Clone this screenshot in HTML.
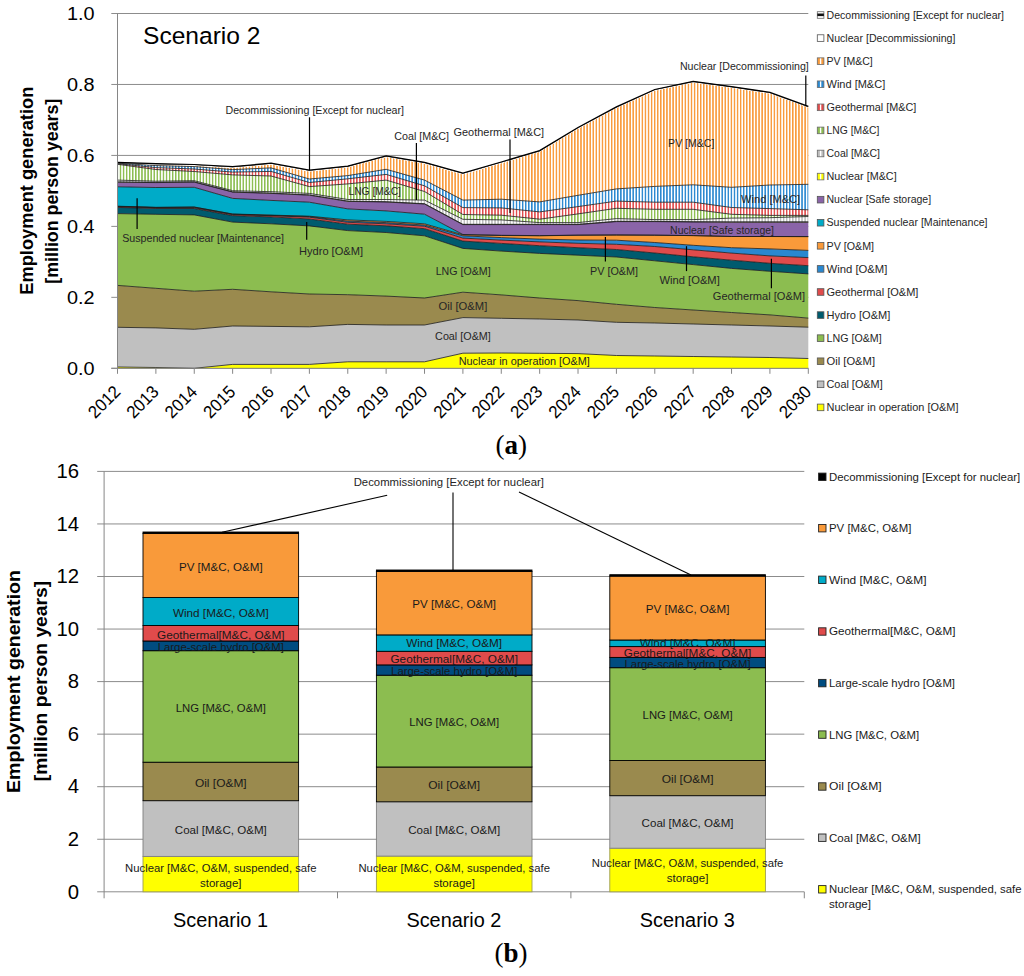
<!DOCTYPE html>
<html><head><meta charset="utf-8"><style>html,body{margin:0;padding:0;background:#fff;overflow:hidden;width:1024px;height:976px;}svg{display:block;}</style></head><body>
<svg width="1024" height="976" viewBox="0 0 1024 976" font-family="Liberation Sans, sans-serif">
<defs>
<pattern id="hNM" patternUnits="userSpaceOnUse" x="0" y="0" width="3.07" height="10"><rect width="3.07" height="10" fill="#FFFFFF"/><rect x="0" width="1.5" height="10" fill="#FFFF00"/></pattern>
<pattern id="hCM" patternUnits="userSpaceOnUse" x="0" y="0" width="3.07" height="10"><rect width="3.07" height="10" fill="#FFFFFF"/><rect x="0" width="1.5" height="10" fill="#BDBDBD"/></pattern>
<pattern id="hLM" patternUnits="userSpaceOnUse" x="0" y="0" width="3.07" height="10"><rect width="3.07" height="10" fill="#FFFFFF"/><rect x="0" width="1.5" height="10" fill="#8CBD50"/></pattern>
<pattern id="hGM" patternUnits="userSpaceOnUse" x="0" y="0" width="3.07" height="10"><rect width="3.07" height="10" fill="#FFFFFF"/><rect x="0" width="1.5" height="10" fill="#E04B4B"/></pattern>
<pattern id="hWM" patternUnits="userSpaceOnUse" x="0" y="0" width="3.07" height="10"><rect width="3.07" height="10" fill="#FFFFFF"/><rect x="0" width="1.5" height="10" fill="#2A88D0"/></pattern>
<pattern id="hPM" patternUnits="userSpaceOnUse" x="0" y="0" width="3.07" height="10"><rect width="3.07" height="10" fill="#FFFFFF"/><rect x="0" width="1.5" height="10" fill="#F99A3A"/></pattern>
</defs>
<rect width="1024" height="976" fill="#FFFFFF"/>
<line x1="111.3" y1="368.30" x2="808.3" y2="368.30" stroke="#8C8C8C" stroke-width="1"/>
<line x1="111.3" y1="297.34" x2="808.3" y2="297.34" stroke="#8C8C8C" stroke-width="1"/>
<line x1="111.3" y1="226.38" x2="808.3" y2="226.38" stroke="#8C8C8C" stroke-width="1"/>
<line x1="111.3" y1="155.42" x2="808.3" y2="155.42" stroke="#8C8C8C" stroke-width="1"/>
<line x1="111.3" y1="84.46" x2="808.3" y2="84.46" stroke="#8C8C8C" stroke-width="1"/>
<line x1="111.3" y1="13.50" x2="808.3" y2="13.50" stroke="#8C8C8C" stroke-width="1"/>
<polygon points="117.50,367.00 155.88,367.50 194.26,368.30 232.63,364.40 271.01,364.40 309.39,364.40 347.77,361.80 386.14,361.80 424.52,361.80 462.90,353.20 501.28,353.00 539.66,353.30 578.03,353.60 616.41,355.50 654.79,356.00 693.17,356.50 731.54,357.00 769.92,357.50 808.30,358.50 808.30,368.30 769.92,368.30 731.54,368.30 693.17,368.30 654.79,368.30 616.41,368.30 578.03,368.30 539.66,368.30 501.28,368.30 462.90,368.30 424.52,368.30 386.14,368.30 347.77,368.30 309.39,368.30 271.01,368.30 232.63,368.30 194.26,368.30 155.88,368.30 117.50,368.30" fill="#FFFF00" stroke="none"/>
<polygon points="117.50,327.30 155.88,327.90 194.26,329.30 232.63,326.00 271.01,326.40 309.39,326.80 347.77,324.40 386.14,325.00 424.52,325.00 462.90,317.60 501.28,318.30 539.66,319.00 578.03,320.00 616.41,322.30 654.79,323.00 693.17,324.00 731.54,325.00 769.92,326.00 808.30,327.20 808.30,358.50 769.92,357.50 731.54,357.00 693.17,356.50 654.79,356.00 616.41,355.50 578.03,353.60 539.66,353.30 501.28,353.00 462.90,353.20 424.52,361.80 386.14,361.80 347.77,361.80 309.39,364.40 271.01,364.40 232.63,364.40 194.26,368.30 155.88,367.50 117.50,367.00" fill="#C0C0C0" stroke="none"/>
<polygon points="117.50,285.40 155.88,288.30 194.26,291.20 232.63,289.30 271.01,291.80 309.39,294.00 347.77,294.70 386.14,296.10 424.52,298.00 462.90,292.20 501.28,294.90 539.66,298.00 578.03,300.60 616.41,304.30 654.79,307.50 693.17,310.00 731.54,312.50 769.92,314.90 808.30,318.10 808.30,327.20 769.92,326.00 731.54,325.00 693.17,324.00 654.79,323.00 616.41,322.30 578.03,320.00 539.66,319.00 501.28,318.30 462.90,317.60 424.52,325.00 386.14,325.00 347.77,324.40 309.39,326.80 271.01,326.40 232.63,326.00 194.26,329.30 155.88,327.90 117.50,327.30" fill="#9A8A4E" stroke="none"/>
<polygon points="117.50,213.60 155.88,214.30 194.26,214.90 232.63,222.10 271.01,223.80 309.39,225.90 347.77,230.60 386.14,232.50 424.52,235.80 462.90,248.40 501.28,251.10 539.66,253.40 578.03,255.20 616.41,257.00 654.79,260.80 693.17,264.60 731.54,268.40 769.92,271.30 808.30,273.90 808.30,318.10 769.92,314.90 731.54,312.50 693.17,310.00 654.79,307.50 616.41,304.30 578.03,300.60 539.66,298.00 501.28,294.90 462.90,292.20 424.52,298.00 386.14,296.10 347.77,294.70 309.39,294.00 271.01,291.80 232.63,289.30 194.26,291.20 155.88,288.30 117.50,285.40" fill="#8CBD50" stroke="none"/>
<polygon points="117.50,207.40 155.88,208.50 194.26,208.50 232.63,215.60 271.01,216.90 309.39,219.00 347.77,224.20 386.14,225.80 424.52,228.70 462.90,241.10 501.28,243.40 539.66,245.70 578.03,247.70 616.41,249.50 654.79,253.00 693.17,256.80 731.54,260.20 769.92,263.30 808.30,265.70 808.30,273.90 769.92,271.30 731.54,268.40 693.17,264.60 654.79,260.80 616.41,257.00 578.03,255.20 539.66,253.40 501.28,251.10 462.90,248.40 424.52,235.80 386.14,232.50 347.77,230.60 309.39,225.90 271.01,223.80 232.63,222.10 194.26,214.90 155.88,214.30 117.50,213.60" fill="#005B6E" stroke="none"/>
<polygon points="117.50,206.60 155.88,207.70 194.26,207.70 232.63,214.60 271.01,215.70 309.39,217.20 347.77,222.30 386.14,223.80 424.52,226.20 462.90,238.10 501.28,240.10 539.66,241.90 578.03,243.30 616.41,244.30 654.79,246.50 693.17,249.80 731.54,253.10 769.92,255.90 808.30,257.60 808.30,265.70 769.92,263.30 731.54,260.20 693.17,256.80 654.79,253.00 616.41,249.50 578.03,247.70 539.66,245.70 501.28,243.40 462.90,241.10 424.52,228.70 386.14,225.80 347.77,224.20 309.39,219.00 271.01,216.90 232.63,215.60 194.26,208.50 155.88,208.50 117.50,207.40" fill="#E04B4B" stroke="none"/>
<polygon points="117.50,206.40 155.88,207.50 194.26,207.20 232.63,214.20 271.01,215.40 309.39,216.60 347.77,221.10 386.14,222.60 424.52,225.00 462.90,235.80 501.28,237.60 539.66,239.10 578.03,240.00 616.41,240.20 654.79,242.50 693.17,245.30 731.54,247.70 769.92,248.90 808.30,250.40 808.30,257.60 769.92,255.90 731.54,253.10 693.17,249.80 654.79,246.50 616.41,244.30 578.03,243.30 539.66,241.90 501.28,240.10 462.90,238.10 424.52,226.20 386.14,223.80 347.77,222.30 309.39,217.20 271.01,215.70 232.63,214.60 194.26,207.70 155.88,207.70 117.50,206.60" fill="#2A88D0" stroke="none"/>
<polygon points="117.50,206.20 155.88,207.30 194.26,207.00 232.63,214.00 271.01,215.10 309.39,216.20 347.77,219.90 386.14,221.40 424.52,223.80 462.90,234.80 501.28,235.50 539.66,235.80 578.03,235.20 616.41,235.00 654.79,235.20 693.17,235.60 731.54,236.50 769.92,236.50 808.30,236.60 808.30,250.40 769.92,248.90 731.54,247.70 693.17,245.30 654.79,242.50 616.41,240.20 578.03,240.00 539.66,239.10 501.28,237.60 462.90,235.80 424.52,225.00 386.14,222.60 347.77,221.10 309.39,216.60 271.01,215.40 232.63,214.20 194.26,207.20 155.88,207.50 117.50,206.40" fill="#F99A3A" stroke="none"/>
<polygon points="117.50,186.80 155.88,187.50 194.26,187.30 232.63,198.40 271.01,200.40 309.39,202.20 347.77,208.90 386.14,210.90 424.52,214.20 462.90,234.50 501.28,235.30 539.66,235.60 578.03,235.20 616.41,235.00 654.79,235.20 693.17,235.60 731.54,236.50 769.92,236.50 808.30,236.60 808.30,236.60 769.92,236.50 731.54,236.50 693.17,235.60 654.79,235.20 616.41,235.00 578.03,235.20 539.66,235.80 501.28,235.50 462.90,234.80 424.52,223.80 386.14,221.40 347.77,219.90 309.39,216.20 271.01,215.10 232.63,214.00 194.26,207.00 155.88,207.30 117.50,206.20" fill="#00ABC8" stroke="none"/>
<polygon points="117.50,182.20 155.88,182.60 194.26,182.10 232.63,192.10 271.01,193.40 309.39,195.20 347.77,201.40 386.14,202.00 424.52,204.00 462.90,224.60 501.28,224.60 539.66,224.60 578.03,224.60 616.41,221.60 654.79,221.60 693.17,222.00 731.54,222.20 769.92,222.20 808.30,222.20 808.30,236.60 769.92,236.50 731.54,236.50 693.17,235.60 654.79,235.20 616.41,235.00 578.03,235.20 539.66,235.60 501.28,235.30 462.90,234.50 424.52,214.20 386.14,210.90 347.77,208.90 309.39,202.20 271.01,200.40 232.63,198.40 194.26,187.30 155.88,187.50 117.50,186.80" fill="#8A64A8" stroke="none"/>
<polygon points="117.50,181.90 155.88,182.30 194.26,181.80 232.63,191.80 271.01,193.10 309.39,194.90 347.77,201.10 386.14,201.70 424.52,203.70 462.90,224.30 501.28,224.30 539.66,224.30 578.03,224.30 616.41,221.30 654.79,221.30 693.17,221.70 731.54,221.90 769.92,221.90 808.30,221.90 808.30,222.20 769.92,222.20 731.54,222.20 693.17,222.00 654.79,221.60 616.41,221.60 578.03,224.60 539.66,224.60 501.28,224.60 462.90,224.60 424.52,204.00 386.14,202.00 347.77,201.40 309.39,195.20 271.01,193.40 232.63,192.10 194.26,182.10 155.88,182.60 117.50,182.20" fill="url(#hNM)" stroke="none"/>
<polygon points="117.50,180.10 155.88,181.20 194.26,180.70 232.63,190.70 271.01,191.70 309.39,193.40 347.77,199.50 386.14,199.50 424.52,200.10 462.90,219.30 501.28,219.90 539.66,222.60 578.03,222.60 616.41,218.60 654.79,219.60 693.17,219.60 731.54,218.10 769.92,217.70 808.30,216.50 808.30,221.90 769.92,221.90 731.54,221.90 693.17,221.70 654.79,221.30 616.41,221.30 578.03,224.30 539.66,224.30 501.28,224.30 462.90,224.30 424.52,203.70 386.14,201.70 347.77,201.10 309.39,194.90 271.01,193.10 232.63,191.80 194.26,181.80 155.88,182.30 117.50,181.90" fill="url(#hCM)" stroke="none"/>
<polygon points="117.50,164.30 155.88,169.50 194.26,171.50 232.63,174.90 271.01,176.00 309.39,186.60 347.77,183.90 386.14,180.10 424.52,191.50 462.90,214.50 501.28,215.20 539.66,219.20 578.03,213.90 616.41,208.30 654.79,209.30 693.17,209.30 731.54,214.30 769.92,215.40 808.30,215.40 808.30,216.50 769.92,217.70 731.54,218.10 693.17,219.60 654.79,219.60 616.41,218.60 578.03,222.60 539.66,222.60 501.28,219.90 462.90,219.30 424.52,200.10 386.14,199.50 347.77,199.50 309.39,193.40 271.01,191.70 232.63,190.70 194.26,180.70 155.88,181.20 117.50,180.10" fill="url(#hLM)" stroke="none"/>
<polygon points="117.50,163.70 155.88,167.60 194.26,169.00 232.63,172.10 271.01,171.40 309.39,182.50 347.77,178.80 386.14,174.40 424.52,185.80 462.90,207.60 501.28,207.90 539.66,211.90 578.03,206.60 616.41,201.10 654.79,202.20 693.17,202.20 731.54,207.50 769.92,208.60 808.30,209.80 808.30,215.40 769.92,215.40 731.54,214.30 693.17,209.30 654.79,209.30 616.41,208.30 578.03,213.90 539.66,219.20 501.28,215.20 462.90,214.50 424.52,191.50 386.14,180.10 347.77,183.90 309.39,186.60 271.01,176.00 232.63,174.90 194.26,171.50 155.88,169.50 117.50,164.30" fill="url(#hGM)" stroke="none"/>
<polygon points="117.50,163.20 155.88,165.60 194.26,166.60 232.63,169.60 271.01,167.90 309.39,179.00 347.77,175.60 386.14,169.30 424.52,180.10 462.90,200.10 501.28,199.20 539.66,201.90 578.03,195.30 616.41,188.90 654.79,186.40 693.17,184.80 731.54,187.30 769.92,185.00 808.30,184.30 808.30,209.80 769.92,208.60 731.54,207.50 693.17,202.20 654.79,202.20 616.41,201.10 578.03,206.60 539.66,211.90 501.28,207.90 462.90,207.60 424.52,185.80 386.14,174.40 347.77,178.80 309.39,182.50 271.01,171.40 232.63,172.10 194.26,169.00 155.88,167.60 117.50,163.70" fill="url(#hWM)" stroke="none"/>
<polygon points="117.50,163.50 155.88,164.90 194.26,165.70 232.63,167.90 271.01,164.40 309.39,171.40 347.77,167.30 386.14,157.10 424.52,163.50 462.90,174.40 501.28,163.20 539.66,151.80 578.03,128.70 616.41,108.10 654.79,90.70 693.17,82.50 731.54,87.80 769.92,93.60 808.30,107.60 808.30,184.30 769.92,185.00 731.54,187.30 693.17,184.80 654.79,186.40 616.41,188.90 578.03,195.30 539.66,201.90 501.28,199.20 462.90,200.10 424.52,180.10 386.14,169.30 347.77,175.60 309.39,179.00 271.01,167.90 232.63,169.60 194.26,166.60 155.88,165.60 117.50,163.20" fill="url(#hPM)" stroke="none"/>
<polygon points="117.50,162.90 155.88,164.30 194.26,165.10 232.63,167.30 271.01,163.80 309.39,170.80 347.77,166.70 386.14,156.50 424.52,162.90 462.90,173.80 501.28,162.60 539.66,151.20 578.03,128.10 616.41,107.50 654.79,90.10 693.17,81.90 731.54,87.20 769.92,93.00 808.30,107.00 808.30,107.60 769.92,93.60 731.54,87.80 693.17,82.50 654.79,90.70 616.41,108.10 578.03,128.70 539.66,151.80 501.28,163.20 462.90,174.40 424.52,163.50 386.14,157.10 347.77,167.30 309.39,171.40 271.01,164.40 232.63,167.90 194.26,165.70 155.88,164.90 117.50,163.50" fill="#FFFFFF" stroke="none"/>
<polygon points="117.50,162.30 155.88,163.70 194.26,164.50 232.63,166.70 271.01,163.20 309.39,170.20 347.77,166.10 386.14,155.90 424.52,162.30 462.90,173.20 501.28,162.00 539.66,150.60 578.03,127.50 616.41,106.90 654.79,89.50 693.17,81.30 731.54,86.60 769.92,92.40 808.30,106.40 808.30,107.00 769.92,93.00 731.54,87.20 693.17,81.90 654.79,90.10 616.41,107.50 578.03,128.10 539.66,151.20 501.28,162.60 462.90,173.80 424.52,162.90 386.14,156.50 347.77,166.70 309.39,170.80 271.01,163.80 232.63,167.30 194.26,165.10 155.88,164.30 117.50,162.90" fill="#111111" stroke="none"/>
<polyline points="117.50,367.00 155.88,367.50 194.26,368.30 232.63,364.40 271.01,364.40 309.39,364.40 347.77,361.80 386.14,361.80 424.52,361.80 462.90,353.20 501.28,353.00 539.66,353.30 578.03,353.60 616.41,355.50 654.79,356.00 693.17,356.50 731.54,357.00 769.92,357.50 808.30,358.50" fill="none" stroke="#1A1A1A" stroke-width="0.8"/>
<polyline points="117.50,327.30 155.88,327.90 194.26,329.30 232.63,326.00 271.01,326.40 309.39,326.80 347.77,324.40 386.14,325.00 424.52,325.00 462.90,317.60 501.28,318.30 539.66,319.00 578.03,320.00 616.41,322.30 654.79,323.00 693.17,324.00 731.54,325.00 769.92,326.00 808.30,327.20" fill="none" stroke="#1A1A1A" stroke-width="0.8"/>
<polyline points="117.50,285.40 155.88,288.30 194.26,291.20 232.63,289.30 271.01,291.80 309.39,294.00 347.77,294.70 386.14,296.10 424.52,298.00 462.90,292.20 501.28,294.90 539.66,298.00 578.03,300.60 616.41,304.30 654.79,307.50 693.17,310.00 731.54,312.50 769.92,314.90 808.30,318.10" fill="none" stroke="#1A1A1A" stroke-width="0.8"/>
<polyline points="117.50,213.60 155.88,214.30 194.26,214.90 232.63,222.10 271.01,223.80 309.39,225.90 347.77,230.60 386.14,232.50 424.52,235.80 462.90,248.40 501.28,251.10 539.66,253.40 578.03,255.20 616.41,257.00 654.79,260.80 693.17,264.60 731.54,268.40 769.92,271.30 808.30,273.90" fill="none" stroke="#1A1A1A" stroke-width="0.8"/>
<polyline points="117.50,207.40 155.88,208.50 194.26,208.50 232.63,215.60 271.01,216.90 309.39,219.00 347.77,224.20 386.14,225.80 424.52,228.70 462.90,241.10 501.28,243.40 539.66,245.70 578.03,247.70 616.41,249.50 654.79,253.00 693.17,256.80 731.54,260.20 769.92,263.30 808.30,265.70" fill="none" stroke="#1A1A1A" stroke-width="0.8"/>
<polyline points="117.50,206.60 155.88,207.70 194.26,207.70 232.63,214.60 271.01,215.70 309.39,217.20 347.77,222.30 386.14,223.80 424.52,226.20 462.90,238.10 501.28,240.10 539.66,241.90 578.03,243.30 616.41,244.30 654.79,246.50 693.17,249.80 731.54,253.10 769.92,255.90 808.30,257.60" fill="none" stroke="#1A1A1A" stroke-width="0.8"/>
<polyline points="117.50,206.40 155.88,207.50 194.26,207.20 232.63,214.20 271.01,215.40 309.39,216.60 347.77,221.10 386.14,222.60 424.52,225.00 462.90,235.80 501.28,237.60 539.66,239.10 578.03,240.00 616.41,240.20 654.79,242.50 693.17,245.30 731.54,247.70 769.92,248.90 808.30,250.40" fill="none" stroke="#1A1A1A" stroke-width="0.8"/>
<polyline points="117.50,206.20 155.88,207.30 194.26,207.00 232.63,214.00 271.01,215.10 309.39,216.20 347.77,219.90 386.14,221.40 424.52,223.80 462.90,234.80 501.28,235.50 539.66,235.80 578.03,235.20 616.41,235.00 654.79,235.20 693.17,235.60 731.54,236.50 769.92,236.50 808.30,236.60" fill="none" stroke="#1A1A1A" stroke-width="0.8"/>
<polyline points="117.50,186.80 155.88,187.50 194.26,187.30 232.63,198.40 271.01,200.40 309.39,202.20 347.77,208.90 386.14,210.90 424.52,214.20 462.90,234.50 501.28,235.30 539.66,235.60 578.03,235.20 616.41,235.00 654.79,235.20 693.17,235.60 731.54,236.50 769.92,236.50 808.30,236.60" fill="none" stroke="#1A1A1A" stroke-width="0.8"/>
<polyline points="117.50,182.20 155.88,182.60 194.26,182.10 232.63,192.10 271.01,193.40 309.39,195.20 347.77,201.40 386.14,202.00 424.52,204.00 462.90,224.60 501.28,224.60 539.66,224.60 578.03,224.60 616.41,221.60 654.79,221.60 693.17,222.00 731.54,222.20 769.92,222.20 808.30,222.20" fill="none" stroke="#1A1A1A" stroke-width="0.8"/>
<polyline points="117.50,181.90 155.88,182.30 194.26,181.80 232.63,191.80 271.01,193.10 309.39,194.90 347.77,201.10 386.14,201.70 424.52,203.70 462.90,224.30 501.28,224.30 539.66,224.30 578.03,224.30 616.41,221.30 654.79,221.30 693.17,221.70 731.54,221.90 769.92,221.90 808.30,221.90" fill="none" stroke="#1A1A1A" stroke-width="0.8"/>
<polyline points="117.50,180.10 155.88,181.20 194.26,180.70 232.63,190.70 271.01,191.70 309.39,193.40 347.77,199.50 386.14,199.50 424.52,200.10 462.90,219.30 501.28,219.90 539.66,222.60 578.03,222.60 616.41,218.60 654.79,219.60 693.17,219.60 731.54,218.10 769.92,217.70 808.30,216.50" fill="none" stroke="#1A1A1A" stroke-width="0.8"/>
<polyline points="117.50,164.30 155.88,169.50 194.26,171.50 232.63,174.90 271.01,176.00 309.39,186.60 347.77,183.90 386.14,180.10 424.52,191.50 462.90,214.50 501.28,215.20 539.66,219.20 578.03,213.90 616.41,208.30 654.79,209.30 693.17,209.30 731.54,214.30 769.92,215.40 808.30,215.40" fill="none" stroke="#1A1A1A" stroke-width="0.8"/>
<polyline points="117.50,163.70 155.88,167.60 194.26,169.00 232.63,172.10 271.01,171.40 309.39,182.50 347.77,178.80 386.14,174.40 424.52,185.80 462.90,207.60 501.28,207.90 539.66,211.90 578.03,206.60 616.41,201.10 654.79,202.20 693.17,202.20 731.54,207.50 769.92,208.60 808.30,209.80" fill="none" stroke="#1A1A1A" stroke-width="0.8"/>
<polyline points="117.50,163.20 155.88,165.60 194.26,166.60 232.63,169.60 271.01,167.90 309.39,179.00 347.77,175.60 386.14,169.30 424.52,180.10 462.90,200.10 501.28,199.20 539.66,201.90 578.03,195.30 616.41,188.90 654.79,186.40 693.17,184.80 731.54,187.30 769.92,185.00 808.30,184.30" fill="none" stroke="#1A1A1A" stroke-width="0.8"/>
<polyline points="117.50,162.30 155.88,163.70 194.26,164.50 232.63,166.70 271.01,163.20 309.39,170.20 347.77,166.10 386.14,155.90 424.52,162.30 462.90,173.20 501.28,162.00 539.66,150.60 578.03,127.50 616.41,106.90 654.79,89.50 693.17,81.30 731.54,86.60 769.92,92.40 808.30,106.40" fill="none" stroke="#000" stroke-width="1.25"/>
<line x1="117.5" y1="13.5" x2="117.5" y2="368.3" stroke="#868686" stroke-width="1"/>
<line x1="111.3" y1="368.3" x2="808.3" y2="368.3" stroke="#868686" stroke-width="1"/>
<line x1="117.50" y1="368.3" x2="117.50" y2="373.8" stroke="#868686" stroke-width="1"/>
<line x1="155.88" y1="368.3" x2="155.88" y2="373.8" stroke="#868686" stroke-width="1"/>
<line x1="194.26" y1="368.3" x2="194.26" y2="373.8" stroke="#868686" stroke-width="1"/>
<line x1="232.63" y1="368.3" x2="232.63" y2="373.8" stroke="#868686" stroke-width="1"/>
<line x1="271.01" y1="368.3" x2="271.01" y2="373.8" stroke="#868686" stroke-width="1"/>
<line x1="309.39" y1="368.3" x2="309.39" y2="373.8" stroke="#868686" stroke-width="1"/>
<line x1="347.77" y1="368.3" x2="347.77" y2="373.8" stroke="#868686" stroke-width="1"/>
<line x1="386.14" y1="368.3" x2="386.14" y2="373.8" stroke="#868686" stroke-width="1"/>
<line x1="424.52" y1="368.3" x2="424.52" y2="373.8" stroke="#868686" stroke-width="1"/>
<line x1="462.90" y1="368.3" x2="462.90" y2="373.8" stroke="#868686" stroke-width="1"/>
<line x1="501.28" y1="368.3" x2="501.28" y2="373.8" stroke="#868686" stroke-width="1"/>
<line x1="539.66" y1="368.3" x2="539.66" y2="373.8" stroke="#868686" stroke-width="1"/>
<line x1="578.03" y1="368.3" x2="578.03" y2="373.8" stroke="#868686" stroke-width="1"/>
<line x1="616.41" y1="368.3" x2="616.41" y2="373.8" stroke="#868686" stroke-width="1"/>
<line x1="654.79" y1="368.3" x2="654.79" y2="373.8" stroke="#868686" stroke-width="1"/>
<line x1="693.17" y1="368.3" x2="693.17" y2="373.8" stroke="#868686" stroke-width="1"/>
<line x1="731.54" y1="368.3" x2="731.54" y2="373.8" stroke="#868686" stroke-width="1"/>
<line x1="769.92" y1="368.3" x2="769.92" y2="373.8" stroke="#868686" stroke-width="1"/>
<line x1="808.30" y1="368.3" x2="808.30" y2="373.8" stroke="#868686" stroke-width="1"/>
<line x1="808.3" y1="13.5" x2="808.3" y2="368.3" stroke="#868686" stroke-width="0"/>
<text x="94.60" y="374.60" font-size="18" text-anchor="end" textLength="27.60" lengthAdjust="spacingAndGlyphs">0.0</text>
<text x="94.60" y="303.64" font-size="18" text-anchor="end" textLength="27.60" lengthAdjust="spacingAndGlyphs">0.2</text>
<text x="94.60" y="232.68" font-size="18" text-anchor="end" textLength="27.60" lengthAdjust="spacingAndGlyphs">0.4</text>
<text x="94.60" y="161.72" font-size="18" text-anchor="end" textLength="27.60" lengthAdjust="spacingAndGlyphs">0.6</text>
<text x="94.60" y="90.76" font-size="18" text-anchor="end" textLength="27.60" lengthAdjust="spacingAndGlyphs">0.8</text>
<text x="94.60" y="19.80" font-size="18" text-anchor="end" textLength="27.60" lengthAdjust="spacingAndGlyphs">1.0</text>
<text x="121.50" y="393.00" font-size="17.6" text-anchor="end" textLength="37.00" lengthAdjust="spacingAndGlyphs" transform="rotate(-45 121.50 393.00)">2012</text>
<text x="159.88" y="393.00" font-size="17.6" text-anchor="end" textLength="37.00" lengthAdjust="spacingAndGlyphs" transform="rotate(-45 159.88 393.00)">2013</text>
<text x="198.26" y="393.00" font-size="17.6" text-anchor="end" textLength="37.00" lengthAdjust="spacingAndGlyphs" transform="rotate(-45 198.26 393.00)">2014</text>
<text x="236.63" y="393.00" font-size="17.6" text-anchor="end" textLength="37.00" lengthAdjust="spacingAndGlyphs" transform="rotate(-45 236.63 393.00)">2015</text>
<text x="275.01" y="393.00" font-size="17.6" text-anchor="end" textLength="37.00" lengthAdjust="spacingAndGlyphs" transform="rotate(-45 275.01 393.00)">2016</text>
<text x="313.39" y="393.00" font-size="17.6" text-anchor="end" textLength="37.00" lengthAdjust="spacingAndGlyphs" transform="rotate(-45 313.39 393.00)">2017</text>
<text x="351.77" y="393.00" font-size="17.6" text-anchor="end" textLength="37.00" lengthAdjust="spacingAndGlyphs" transform="rotate(-45 351.77 393.00)">2018</text>
<text x="390.14" y="393.00" font-size="17.6" text-anchor="end" textLength="37.00" lengthAdjust="spacingAndGlyphs" transform="rotate(-45 390.14 393.00)">2019</text>
<text x="428.52" y="393.00" font-size="17.6" text-anchor="end" textLength="37.00" lengthAdjust="spacingAndGlyphs" transform="rotate(-45 428.52 393.00)">2020</text>
<text x="466.90" y="393.00" font-size="17.6" text-anchor="end" textLength="37.00" lengthAdjust="spacingAndGlyphs" transform="rotate(-45 466.90 393.00)">2021</text>
<text x="505.28" y="393.00" font-size="17.6" text-anchor="end" textLength="37.00" lengthAdjust="spacingAndGlyphs" transform="rotate(-45 505.28 393.00)">2022</text>
<text x="543.66" y="393.00" font-size="17.6" text-anchor="end" textLength="37.00" lengthAdjust="spacingAndGlyphs" transform="rotate(-45 543.66 393.00)">2023</text>
<text x="582.03" y="393.00" font-size="17.6" text-anchor="end" textLength="37.00" lengthAdjust="spacingAndGlyphs" transform="rotate(-45 582.03 393.00)">2024</text>
<text x="620.41" y="393.00" font-size="17.6" text-anchor="end" textLength="37.00" lengthAdjust="spacingAndGlyphs" transform="rotate(-45 620.41 393.00)">2025</text>
<text x="658.79" y="393.00" font-size="17.6" text-anchor="end" textLength="37.00" lengthAdjust="spacingAndGlyphs" transform="rotate(-45 658.79 393.00)">2026</text>
<text x="697.17" y="393.00" font-size="17.6" text-anchor="end" textLength="37.00" lengthAdjust="spacingAndGlyphs" transform="rotate(-45 697.17 393.00)">2027</text>
<text x="735.54" y="393.00" font-size="17.6" text-anchor="end" textLength="37.00" lengthAdjust="spacingAndGlyphs" transform="rotate(-45 735.54 393.00)">2028</text>
<text x="773.92" y="393.00" font-size="17.6" text-anchor="end" textLength="37.00" lengthAdjust="spacingAndGlyphs" transform="rotate(-45 773.92 393.00)">2029</text>
<text x="812.30" y="393.00" font-size="17.6" text-anchor="end" textLength="37.00" lengthAdjust="spacingAndGlyphs" transform="rotate(-45 812.30 393.00)">2030</text>
<text x="143.00" y="43.90" font-size="24.5" textLength="117.50" lengthAdjust="spacingAndGlyphs">Scenario 2</text>
<text x="33.50" y="190.70" font-size="17.5" text-anchor="middle" font-weight="bold" textLength="208.00" lengthAdjust="spacingAndGlyphs" transform="rotate(-90 33.50 190.70)">Employment generation</text>
<text x="58.20" y="191.20" font-size="17.5" text-anchor="middle" font-weight="bold" textLength="185.00" lengthAdjust="spacingAndGlyphs" transform="rotate(-90 58.20 191.20)">[million person years]</text>
<text x="511.3" y="454" font-family="Liberation Serif" font-size="27" text-anchor="middle">(<tspan font-weight="bold">a</tspan>)</text>
<text x="314.75" y="113.94" font-size="10.4" text-anchor="middle" fill="#262626" textLength="178.50" lengthAdjust="spacingAndGlyphs">Decommissioning [Except for nuclear]</text>
<line x1="309.50" y1="117.30" x2="309.50" y2="170.30" stroke="#000" stroke-width="1.2"/>
<text x="421.70" y="140.24" font-size="10.4" text-anchor="middle" fill="#262626" textLength="54.80" lengthAdjust="spacingAndGlyphs">Coal [M&amp;C]</text>
<line x1="416.40" y1="143.00" x2="416.40" y2="200.00" stroke="#000" stroke-width="1.2"/>
<text x="498.80" y="136.14" font-size="10.4" text-anchor="middle" fill="#262626" textLength="90.60" lengthAdjust="spacingAndGlyphs">Geothermal [M&amp;C]</text>
<line x1="510.00" y1="139.60" x2="510.00" y2="213.00" stroke="#000" stroke-width="1.2"/>
<text x="374.70" y="194.94" font-size="10.4" text-anchor="middle" fill="#262626" textLength="52.40" lengthAdjust="spacingAndGlyphs">LNG [M&amp;C]</text>
<text x="691.25" y="146.94" font-size="10.4" text-anchor="middle" fill="#262626" textLength="46.30" lengthAdjust="spacingAndGlyphs">PV [M&amp;C]</text>
<text x="744.35" y="70.34" font-size="10.4" text-anchor="middle" fill="#262626" textLength="128.90" lengthAdjust="spacingAndGlyphs">Nuclear [Decommissioning]</text>
<line x1="805.80" y1="75.50" x2="805.80" y2="106.20" stroke="#000" stroke-width="1.2"/>
<text x="770.65" y="203.44" font-size="10.4" text-anchor="middle" fill="#262626" textLength="59.10" lengthAdjust="spacingAndGlyphs">Wind [M&amp;C]</text>
<text x="722.00" y="233.94" font-size="10.4" text-anchor="middle" fill="#262626" textLength="103.80" lengthAdjust="spacingAndGlyphs">Nuclear [Safe storage]</text>
<text x="614.00" y="274.74" font-size="10.4" text-anchor="middle" fill="#262626" textLength="48.00" lengthAdjust="spacingAndGlyphs">PV [O&amp;M]</text>
<line x1="605.40" y1="237.10" x2="605.40" y2="261.60" stroke="#000" stroke-width="1.2"/>
<text x="689.65" y="283.84" font-size="10.4" text-anchor="middle" fill="#262626" textLength="60.30" lengthAdjust="spacingAndGlyphs">Wind [O&amp;M]</text>
<line x1="686.50" y1="246.20" x2="686.50" y2="271.10" stroke="#000" stroke-width="1.2"/>
<text x="759.00" y="300.14" font-size="10.4" text-anchor="middle" fill="#262626" textLength="92.40" lengthAdjust="spacingAndGlyphs">Geothermal [O&amp;M]</text>
<line x1="771.40" y1="258.80" x2="771.40" y2="288.30" stroke="#000" stroke-width="1.2"/>
<text x="203.10" y="242.44" font-size="10.4" text-anchor="middle" fill="#262626" textLength="161.80" lengthAdjust="spacingAndGlyphs">Suspended nuclear [Maintenance]</text>
<line x1="137.10" y1="198.20" x2="137.10" y2="228.90" stroke="#000" stroke-width="1.2"/>
<text x="331.00" y="255.14" font-size="10.4" text-anchor="middle" fill="#262626" textLength="64.00" lengthAdjust="spacingAndGlyphs">Hydro [O&amp;M]</text>
<line x1="306.70" y1="222.00" x2="306.70" y2="239.80" stroke="#000" stroke-width="1.2"/>
<text x="463.15" y="275.14" font-size="10.4" text-anchor="middle" fill="#262626" textLength="54.90" lengthAdjust="spacingAndGlyphs">LNG [O&amp;M]</text>
<text x="462.95" y="309.54" font-size="10.4" text-anchor="middle" fill="#262626" textLength="48.70" lengthAdjust="spacingAndGlyphs">Oil [O&amp;M]</text>
<text x="462.95" y="339.64" font-size="10.4" text-anchor="middle" fill="#262626" textLength="55.70" lengthAdjust="spacingAndGlyphs">Coal [O&amp;M]</text>
<text x="524.30" y="364.64" font-size="10.4" text-anchor="middle" fill="#262626" textLength="131.20" lengthAdjust="spacingAndGlyphs">Nuclear in operation [O&amp;M]</text>
<rect x="817.3" y="11.70" width="6.6" height="6.6" fill="#fff" stroke="#6A6A6A" stroke-width="0.8"/>
<rect x="817.3" y="13.50" width="6.6" height="2.6" fill="#111"/>
<text x="826.50" y="18.70" font-size="10.4" fill="#262626" textLength="177.52" lengthAdjust="spacingAndGlyphs">Decommissioning [Except for nuclear]</text>
<rect x="817.3" y="34.78" width="6.6" height="6.6" fill="#FFFFFF" stroke="#555" stroke-width="0.8"/>
<text x="826.50" y="41.78" font-size="10.4" fill="#262626" textLength="128.94" lengthAdjust="spacingAndGlyphs">Nuclear [Decommissioning]</text>
<rect x="817.3" y="57.86" width="6.6" height="6.6" fill="#F99A3A"/>
<rect x="819.9" y="57.86" width="1.4" height="6.6" fill="#fff"/>
<rect x="817.3" y="57.86" width="6.6" height="6.6" fill="none" stroke="#6A6A6A" stroke-width="0.8"/>
<text x="826.50" y="64.86" font-size="10.4" fill="#262626" textLength="46.24" lengthAdjust="spacingAndGlyphs">PV [M&amp;C]</text>
<rect x="817.3" y="80.95" width="6.6" height="6.6" fill="#2A88D0"/>
<rect x="819.9" y="80.95" width="1.4" height="6.6" fill="#fff"/>
<rect x="817.3" y="80.95" width="6.6" height="6.6" fill="none" stroke="#6A6A6A" stroke-width="0.8"/>
<text x="826.50" y="87.95" font-size="10.4" fill="#262626" textLength="58.73" lengthAdjust="spacingAndGlyphs">Wind [M&amp;C]</text>
<rect x="817.3" y="104.03" width="6.6" height="6.6" fill="#E04B4B"/>
<rect x="819.9" y="104.03" width="1.4" height="6.6" fill="#fff"/>
<rect x="817.3" y="104.03" width="6.6" height="6.6" fill="none" stroke="#6A6A6A" stroke-width="0.8"/>
<text x="826.50" y="111.03" font-size="10.4" fill="#262626" textLength="89.79" lengthAdjust="spacingAndGlyphs">Geothermal [M&amp;C]</text>
<rect x="817.3" y="127.11" width="6.6" height="6.6" fill="#8CBD50"/>
<rect x="819.9" y="127.11" width="1.4" height="6.6" fill="#fff"/>
<rect x="817.3" y="127.11" width="6.6" height="6.6" fill="none" stroke="#6A6A6A" stroke-width="0.8"/>
<text x="826.50" y="134.11" font-size="10.4" fill="#262626" textLength="52.88" lengthAdjust="spacingAndGlyphs">LNG [M&amp;C]</text>
<rect x="817.3" y="150.19" width="6.6" height="6.6" fill="#BDBDBD"/>
<rect x="819.9" y="150.19" width="1.4" height="6.6" fill="#fff"/>
<rect x="817.3" y="150.19" width="6.6" height="6.6" fill="none" stroke="#6A6A6A" stroke-width="0.8"/>
<text x="826.50" y="157.19" font-size="10.4" fill="#262626" textLength="53.51" lengthAdjust="spacingAndGlyphs">Coal [M&amp;C]</text>
<rect x="817.3" y="173.28" width="6.6" height="6.6" fill="#FFFF00"/>
<rect x="819.9" y="173.28" width="1.4" height="6.6" fill="#fff"/>
<rect x="817.3" y="173.28" width="6.6" height="6.6" fill="none" stroke="#6A6A6A" stroke-width="0.8"/>
<text x="826.50" y="180.28" font-size="10.4" fill="#262626" textLength="70.14" lengthAdjust="spacingAndGlyphs">Nuclear [M&amp;C]</text>
<rect x="817.3" y="196.36" width="6.6" height="6.6" fill="#8A64A8" stroke="#555" stroke-width="0.8"/>
<text x="826.50" y="203.36" font-size="10.4" fill="#262626" textLength="104.64" lengthAdjust="spacingAndGlyphs">Nuclear [Safe storage]</text>
<rect x="817.3" y="219.44" width="6.6" height="6.6" fill="#00ABC8" stroke="#555" stroke-width="0.8"/>
<text x="826.50" y="226.44" font-size="10.4" fill="#262626" textLength="161.07" lengthAdjust="spacingAndGlyphs">Suspended nuclear [Maintenance]</text>
<rect x="817.3" y="242.52" width="6.6" height="6.6" fill="#F99A3A" stroke="#555" stroke-width="0.8"/>
<text x="826.50" y="249.52" font-size="10.4" fill="#262626" textLength="47.55" lengthAdjust="spacingAndGlyphs">PV [O&amp;M]</text>
<rect x="817.3" y="265.61" width="6.6" height="6.6" fill="#2A88D0" stroke="#555" stroke-width="0.8"/>
<text x="826.50" y="272.61" font-size="10.4" fill="#262626" textLength="60.91" lengthAdjust="spacingAndGlyphs">Wind [O&amp;M]</text>
<rect x="817.3" y="288.69" width="6.6" height="6.6" fill="#E04B4B" stroke="#555" stroke-width="0.8"/>
<text x="826.50" y="295.69" font-size="10.4" fill="#262626" textLength="91.93" lengthAdjust="spacingAndGlyphs">Geothermal [O&amp;M]</text>
<rect x="817.3" y="311.77" width="6.6" height="6.6" fill="#005B6E" stroke="#555" stroke-width="0.8"/>
<text x="826.50" y="318.77" font-size="10.4" fill="#262626" textLength="63.78" lengthAdjust="spacingAndGlyphs">Hydro [O&amp;M]</text>
<rect x="817.3" y="334.85" width="6.6" height="6.6" fill="#8CBD50" stroke="#555" stroke-width="0.8"/>
<text x="826.50" y="341.85" font-size="10.4" fill="#262626" textLength="55.23" lengthAdjust="spacingAndGlyphs">LNG [O&amp;M]</text>
<rect x="817.3" y="357.94" width="6.6" height="6.6" fill="#9A8A4E" stroke="#555" stroke-width="0.8"/>
<text x="826.50" y="364.94" font-size="10.4" fill="#262626" textLength="48.51" lengthAdjust="spacingAndGlyphs">Oil [O&amp;M]</text>
<rect x="817.3" y="381.02" width="6.6" height="6.6" fill="#C0C0C0" stroke="#555" stroke-width="0.8"/>
<text x="826.50" y="388.02" font-size="10.4" fill="#262626" textLength="56.17" lengthAdjust="spacingAndGlyphs">Coal [O&amp;M]</text>
<rect x="817.3" y="404.10" width="6.6" height="6.6" fill="#FFFF00" stroke="#555" stroke-width="0.8"/>
<text x="826.50" y="411.10" font-size="10.4" fill="#262626" textLength="131.98" lengthAdjust="spacingAndGlyphs">Nuclear in operation [O&amp;M]</text>
<line x1="97.2" y1="891.80" x2="804.3" y2="891.80" stroke="#8C8C8C" stroke-width="1"/>
<line x1="97.2" y1="839.25" x2="804.3" y2="839.25" stroke="#8C8C8C" stroke-width="1"/>
<line x1="97.2" y1="786.70" x2="804.3" y2="786.70" stroke="#8C8C8C" stroke-width="1"/>
<line x1="97.2" y1="734.15" x2="804.3" y2="734.15" stroke="#8C8C8C" stroke-width="1"/>
<line x1="97.2" y1="681.60" x2="804.3" y2="681.60" stroke="#8C8C8C" stroke-width="1"/>
<line x1="97.2" y1="629.05" x2="804.3" y2="629.05" stroke="#8C8C8C" stroke-width="1"/>
<line x1="97.2" y1="576.50" x2="804.3" y2="576.50" stroke="#8C8C8C" stroke-width="1"/>
<line x1="97.2" y1="523.95" x2="804.3" y2="523.95" stroke="#8C8C8C" stroke-width="1"/>
<line x1="97.2" y1="471.40" x2="804.3" y2="471.40" stroke="#8C8C8C" stroke-width="1"/>
<line x1="104.1" y1="471.4" x2="104.1" y2="898.3" stroke="#868686" stroke-width="1"/>
<line x1="337.50" y1="891.8" x2="337.50" y2="898.3" stroke="#868686" stroke-width="1"/>
<line x1="570.90" y1="891.8" x2="570.90" y2="898.3" stroke="#868686" stroke-width="1"/>
<line x1="804.30" y1="891.8" x2="804.30" y2="898.3" stroke="#868686" stroke-width="1"/>
<text x="79.00" y="898.50" font-size="19.5" text-anchor="end" textLength="11.30" lengthAdjust="spacingAndGlyphs">0</text>
<text x="79.00" y="845.95" font-size="19.5" text-anchor="end" textLength="11.30" lengthAdjust="spacingAndGlyphs">2</text>
<text x="79.00" y="793.40" font-size="19.5" text-anchor="end" textLength="11.30" lengthAdjust="spacingAndGlyphs">4</text>
<text x="79.00" y="740.85" font-size="19.5" text-anchor="end" textLength="11.30" lengthAdjust="spacingAndGlyphs">6</text>
<text x="79.00" y="688.30" font-size="19.5" text-anchor="end" textLength="11.30" lengthAdjust="spacingAndGlyphs">8</text>
<text x="79.00" y="635.75" font-size="19.5" text-anchor="end" textLength="22.60" lengthAdjust="spacingAndGlyphs">10</text>
<text x="79.00" y="583.20" font-size="19.5" text-anchor="end" textLength="22.60" lengthAdjust="spacingAndGlyphs">12</text>
<text x="79.00" y="530.65" font-size="19.5" text-anchor="end" textLength="22.60" lengthAdjust="spacingAndGlyphs">14</text>
<text x="79.00" y="478.10" font-size="19.5" text-anchor="end" textLength="22.60" lengthAdjust="spacingAndGlyphs">16</text>
<rect x="143.00" y="856.40" width="155.6" height="35.40" fill="#FFFF00" stroke="#9E9E4E" stroke-width="0.9"/>
<rect x="143.00" y="800.70" width="155.6" height="55.70" fill="#C0C0C0" stroke="#7F7F7F" stroke-width="0.9"/>
<rect x="143.00" y="762.20" width="155.6" height="38.50" fill="#9A8A4E" stroke="#000" stroke-width="0.9"/>
<rect x="143.00" y="650.70" width="155.6" height="111.50" fill="#8CBD50" stroke="#000" stroke-width="0.9"/>
<rect x="143.00" y="641.00" width="155.6" height="9.70" fill="#004C80" stroke="#000" stroke-width="0.9"/>
<rect x="143.00" y="625.50" width="155.6" height="15.50" fill="#E04B4B" stroke="#000" stroke-width="0.9"/>
<rect x="143.00" y="597.50" width="155.6" height="28.00" fill="#00ABC8" stroke="#000" stroke-width="0.9"/>
<rect x="143.00" y="533.40" width="155.6" height="64.10" fill="#F99A3A" stroke="#000" stroke-width="0.9"/>
<rect x="143.00" y="532.00" width="155.6" height="1.40" fill="#000000" stroke="#000" stroke-width="0.9"/>
<rect x="376.40" y="856.10" width="155.6" height="35.70" fill="#FFFF00" stroke="#9E9E4E" stroke-width="0.9"/>
<rect x="376.40" y="801.80" width="155.6" height="54.30" fill="#C0C0C0" stroke="#7F7F7F" stroke-width="0.9"/>
<rect x="376.40" y="767.00" width="155.6" height="34.80" fill="#9A8A4E" stroke="#000" stroke-width="0.9"/>
<rect x="376.40" y="675.20" width="155.6" height="91.80" fill="#8CBD50" stroke="#000" stroke-width="0.9"/>
<rect x="376.40" y="664.90" width="155.6" height="10.30" fill="#004C80" stroke="#000" stroke-width="0.9"/>
<rect x="376.40" y="651.30" width="155.6" height="13.60" fill="#E04B4B" stroke="#000" stroke-width="0.9"/>
<rect x="376.40" y="634.90" width="155.6" height="16.40" fill="#00ABC8" stroke="#000" stroke-width="0.9"/>
<rect x="376.40" y="571.40" width="155.6" height="63.50" fill="#F99A3A" stroke="#000" stroke-width="0.9"/>
<rect x="376.40" y="570.00" width="155.6" height="1.40" fill="#000000" stroke="#000" stroke-width="0.9"/>
<rect x="609.80" y="848.20" width="155.6" height="43.60" fill="#FFFF00" stroke="#9E9E4E" stroke-width="0.9"/>
<rect x="609.80" y="795.70" width="155.6" height="52.50" fill="#C0C0C0" stroke="#7F7F7F" stroke-width="0.9"/>
<rect x="609.80" y="760.50" width="155.6" height="35.20" fill="#9A8A4E" stroke="#000" stroke-width="0.9"/>
<rect x="609.80" y="667.70" width="155.6" height="92.80" fill="#8CBD50" stroke="#000" stroke-width="0.9"/>
<rect x="609.80" y="657.40" width="155.6" height="10.30" fill="#004C80" stroke="#000" stroke-width="0.9"/>
<rect x="609.80" y="646.60" width="155.6" height="10.80" fill="#E04B4B" stroke="#000" stroke-width="0.9"/>
<rect x="609.80" y="640.00" width="155.6" height="6.60" fill="#00ABC8" stroke="#000" stroke-width="0.9"/>
<rect x="609.80" y="576.10" width="155.6" height="63.90" fill="#F99A3A" stroke="#000" stroke-width="0.9"/>
<rect x="609.80" y="574.70" width="155.6" height="1.40" fill="#000000" stroke="#000" stroke-width="0.9"/>
<text x="220.80" y="871.57" font-size="11.3" text-anchor="middle" fill="#1A1A1A" textLength="191.50" lengthAdjust="spacingAndGlyphs">Nuclear [M&amp;C, O&amp;M, suspended, safe</text>
<text x="220.80" y="886.57" font-size="11.3" text-anchor="middle" fill="#1A1A1A" textLength="41.50" lengthAdjust="spacingAndGlyphs">storage]</text>
<text x="220.80" y="833.67" font-size="11.3" text-anchor="middle" fill="#1A1A1A" textLength="92.00" lengthAdjust="spacingAndGlyphs">Coal [M&amp;C, O&amp;M]</text>
<text x="220.80" y="786.67" font-size="11.3" text-anchor="middle" fill="#1A1A1A" textLength="51.80" lengthAdjust="spacingAndGlyphs">Oil [O&amp;M]</text>
<text x="220.80" y="711.67" font-size="11.3" text-anchor="middle" fill="#1A1A1A" textLength="90.00" lengthAdjust="spacingAndGlyphs">LNG [M&amp;C, O&amp;M]</text>
<text x="220.80" y="651.27" font-size="11.3" text-anchor="middle" fill="#1A1A1A" textLength="126.20" lengthAdjust="spacingAndGlyphs">Large-scale hydro [O&amp;M]</text>
<text x="220.80" y="638.67" font-size="11.3" text-anchor="middle" fill="#1A1A1A" textLength="127.50" lengthAdjust="spacingAndGlyphs">Geothermal[M&amp;C, O&amp;M]</text>
<text x="220.80" y="616.67" font-size="11.3" text-anchor="middle" fill="#1A1A1A" textLength="95.80" lengthAdjust="spacingAndGlyphs">Wind [M&amp;C, O&amp;M]</text>
<text x="220.80" y="571.17" font-size="11.3" text-anchor="middle" fill="#1A1A1A" textLength="83.70" lengthAdjust="spacingAndGlyphs">PV [M&amp;C, O&amp;M]</text>
<text x="454.20" y="871.67" font-size="11.3" text-anchor="middle" fill="#1A1A1A" textLength="191.50" lengthAdjust="spacingAndGlyphs">Nuclear [M&amp;C, O&amp;M, suspended, safe</text>
<text x="454.20" y="886.67" font-size="11.3" text-anchor="middle" fill="#1A1A1A" textLength="41.50" lengthAdjust="spacingAndGlyphs">storage]</text>
<text x="454.20" y="834.07" font-size="11.3" text-anchor="middle" fill="#1A1A1A" textLength="92.00" lengthAdjust="spacingAndGlyphs">Coal [M&amp;C, O&amp;M]</text>
<text x="454.20" y="789.07" font-size="11.3" text-anchor="middle" fill="#1A1A1A" textLength="51.80" lengthAdjust="spacingAndGlyphs">Oil [O&amp;M]</text>
<text x="454.20" y="725.77" font-size="11.3" text-anchor="middle" fill="#1A1A1A" textLength="90.00" lengthAdjust="spacingAndGlyphs">LNG [M&amp;C, O&amp;M]</text>
<text x="454.20" y="674.67" font-size="11.3" text-anchor="middle" fill="#1A1A1A" textLength="126.20" lengthAdjust="spacingAndGlyphs">Large-scale hydro [O&amp;M]</text>
<text x="454.20" y="662.97" font-size="11.3" text-anchor="middle" fill="#1A1A1A" textLength="127.50" lengthAdjust="spacingAndGlyphs">Geothermal[M&amp;C, O&amp;M]</text>
<text x="454.20" y="647.47" font-size="11.3" text-anchor="middle" fill="#1A1A1A" textLength="95.80" lengthAdjust="spacingAndGlyphs">Wind [M&amp;C, O&amp;M]</text>
<text x="454.20" y="607.67" font-size="11.3" text-anchor="middle" fill="#1A1A1A" textLength="83.70" lengthAdjust="spacingAndGlyphs">PV [M&amp;C, O&amp;M]</text>
<text x="687.60" y="866.87" font-size="11.3" text-anchor="middle" fill="#1A1A1A" textLength="191.50" lengthAdjust="spacingAndGlyphs">Nuclear [M&amp;C, O&amp;M, suspended, safe</text>
<text x="687.60" y="881.87" font-size="11.3" text-anchor="middle" fill="#1A1A1A" textLength="41.50" lengthAdjust="spacingAndGlyphs">storage]</text>
<text x="687.60" y="826.57" font-size="11.3" text-anchor="middle" fill="#1A1A1A" textLength="92.00" lengthAdjust="spacingAndGlyphs">Coal [M&amp;C, O&amp;M]</text>
<text x="687.60" y="782.57" font-size="11.3" text-anchor="middle" fill="#1A1A1A" textLength="51.80" lengthAdjust="spacingAndGlyphs">Oil [O&amp;M]</text>
<text x="687.60" y="718.77" font-size="11.3" text-anchor="middle" fill="#1A1A1A" textLength="90.00" lengthAdjust="spacingAndGlyphs">LNG [M&amp;C, O&amp;M]</text>
<text x="687.60" y="667.67" font-size="11.3" text-anchor="middle" fill="#1A1A1A" textLength="126.20" lengthAdjust="spacingAndGlyphs">Large-scale hydro [O&amp;M]</text>
<text x="687.60" y="656.87" font-size="11.3" text-anchor="middle" fill="#1A1A1A" textLength="127.50" lengthAdjust="spacingAndGlyphs">Geothermal[M&amp;C, O&amp;M]</text>
<text x="687.60" y="647.47" font-size="11.3" text-anchor="middle" fill="#1A1A1A" textLength="95.80" lengthAdjust="spacingAndGlyphs">Wind [M&amp;C, O&amp;M]</text>
<text x="687.60" y="613.27" font-size="11.3" text-anchor="middle" fill="#1A1A1A" textLength="83.70" lengthAdjust="spacingAndGlyphs">PV [M&amp;C, O&amp;M]</text>
<polyline points="387.2,495.2 222.0,532.3" fill="none" stroke="#000" stroke-width="1.1"/>
<polyline points="453.0,492.5 453.0,570.2" fill="none" stroke="#000" stroke-width="1.1"/>
<polyline points="519.0,492.0 691.0,574.9" fill="none" stroke="#000" stroke-width="1.1"/>
<text x="448.80" y="486.42" font-size="10.9" text-anchor="middle" fill="#262626" textLength="190.20" lengthAdjust="spacingAndGlyphs">Decommissioning [Except for nuclear]</text>
<text x="220.50" y="927.40" font-size="19.5" text-anchor="middle" textLength="95.00" lengthAdjust="spacingAndGlyphs">Scenario 1</text>
<text x="453.90" y="927.40" font-size="19.5" text-anchor="middle" textLength="95.00" lengthAdjust="spacingAndGlyphs">Scenario 2</text>
<text x="687.30" y="927.40" font-size="19.5" text-anchor="middle" textLength="95.00" lengthAdjust="spacingAndGlyphs">Scenario 3</text>
<text x="19.50" y="681.50" font-size="18.5" text-anchor="middle" font-weight="bold" textLength="223.00" lengthAdjust="spacingAndGlyphs" transform="rotate(-90 19.50 681.50)">Employment generation</text>
<text x="46.50" y="681.00" font-size="18.5" text-anchor="middle" font-weight="bold" textLength="200.50" lengthAdjust="spacingAndGlyphs" transform="rotate(-90 46.50 681.00)">[million person years]</text>
<text x="511.1" y="962" font-family="Liberation Serif" font-size="27" text-anchor="middle">(<tspan font-weight="bold">b</tspan>)</text>
<rect x="818.6" y="473.10" width="7.4" height="7.4" fill="#000000" stroke="#222" stroke-width="0.9"/>
<text x="829.00" y="480.70" font-size="11.2" fill="#1A1A1A" textLength="191.24" lengthAdjust="spacingAndGlyphs">Decommissioning [Except for nuclear]</text>
<rect x="818.6" y="524.50" width="7.4" height="7.4" fill="#F99A3A" stroke="#222" stroke-width="0.9"/>
<text x="829.00" y="532.10" font-size="11.2" fill="#1A1A1A" textLength="82.37" lengthAdjust="spacingAndGlyphs">PV [M&amp;C, O&amp;M]</text>
<rect x="818.6" y="576.10" width="7.4" height="7.4" fill="#00ABC8" stroke="#222" stroke-width="0.9"/>
<text x="829.00" y="583.70" font-size="11.2" fill="#1A1A1A" textLength="97.45" lengthAdjust="spacingAndGlyphs">Wind [M&amp;C, O&amp;M]</text>
<rect x="818.6" y="627.80" width="7.4" height="7.4" fill="#E04B4B" stroke="#222" stroke-width="0.9"/>
<text x="829.00" y="635.40" font-size="11.2" fill="#1A1A1A" textLength="126.59" lengthAdjust="spacingAndGlyphs">Geothermal[M&amp;C, O&amp;M]</text>
<rect x="818.6" y="679.40" width="7.4" height="7.4" fill="#004C80" stroke="#222" stroke-width="0.9"/>
<text x="829.00" y="687.00" font-size="11.2" fill="#1A1A1A" textLength="125.98" lengthAdjust="spacingAndGlyphs">Large-scale hydro [O&amp;M]</text>
<rect x="818.6" y="730.90" width="7.4" height="7.4" fill="#8CBD50" stroke="#222" stroke-width="0.9"/>
<text x="829.00" y="738.50" font-size="11.2" fill="#1A1A1A" textLength="90.19" lengthAdjust="spacingAndGlyphs">LNG [M&amp;C, O&amp;M]</text>
<rect x="818.6" y="782.80" width="7.4" height="7.4" fill="#9A8A4E" stroke="#222" stroke-width="0.9"/>
<text x="829.00" y="790.40" font-size="11.2" fill="#1A1A1A" textLength="52.62" lengthAdjust="spacingAndGlyphs">Oil [O&amp;M]</text>
<rect x="818.6" y="834.00" width="7.4" height="7.4" fill="#C0C0C0" stroke="#222" stroke-width="0.9"/>
<text x="829.00" y="841.60" font-size="11.2" fill="#1A1A1A" textLength="91.63" lengthAdjust="spacingAndGlyphs">Coal [M&amp;C, O&amp;M]</text>
<rect x="818.6" y="885.60" width="7.4" height="7.4" fill="#FFFF00" stroke="#222" stroke-width="0.9"/>
<text x="829.00" y="893.20" font-size="11.2" fill="#1A1A1A" textLength="192.51" lengthAdjust="spacingAndGlyphs">Nuclear [M&amp;C, O&amp;M, suspended, safe</text>
<text x="829.00" y="907.80" font-size="11.2" fill="#1A1A1A" textLength="42.08" lengthAdjust="spacingAndGlyphs">storage]</text>
</svg>
</body></html>
